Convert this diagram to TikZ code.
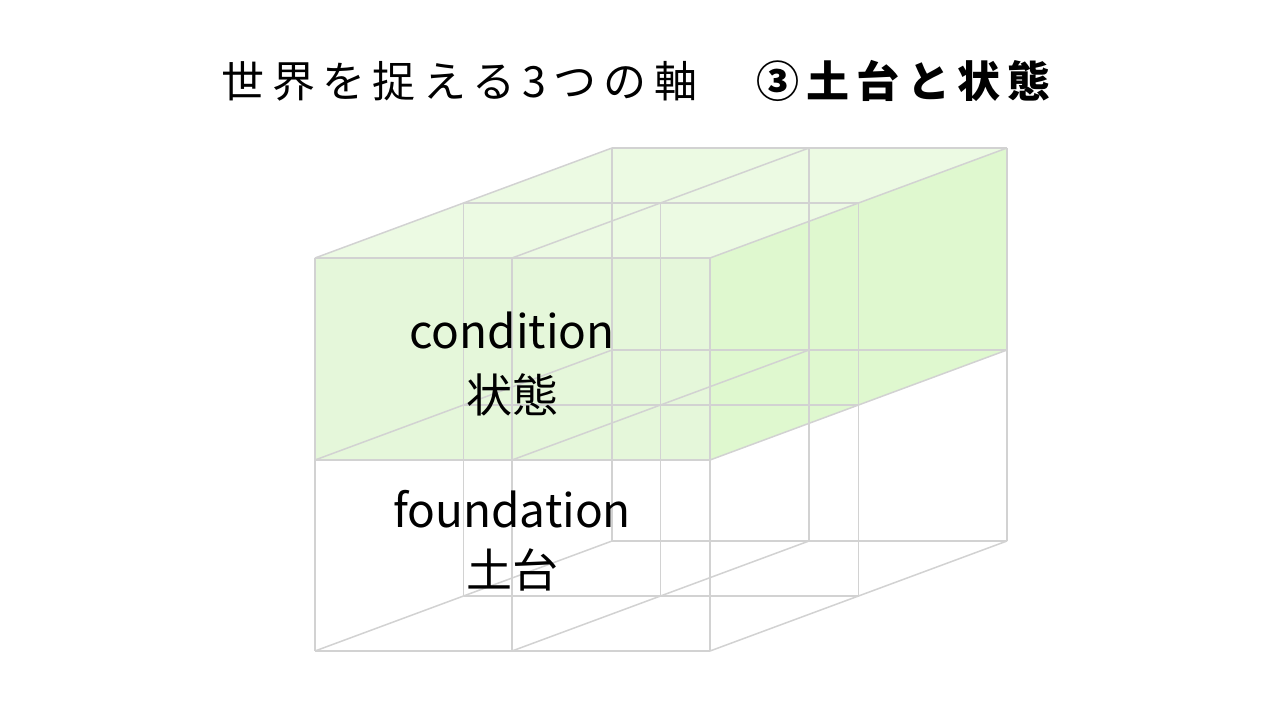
\documentclass[tikz,border=0pt]{standalone}
\usepackage{fontspec}
\setmainfont{Noto Sans CJK JP}
\newfontfamily\titlefont[LetterSpace=17]{Noto Sans CJK JP}
\definecolor{gridgray}{HTML}{D2D2D2}
\definecolor{topgreen}{HTML}{ECFAE3}
\definecolor{frontgreen}{HTML}{E5F7DA}
\definecolor{sidegreen}{HTML}{DFF8CF}
\tikzset{
  gridline/.style={draw=gridgray, line width=1.5pt},
  label/.style={anchor=base, inner sep=0pt, font=\fontsize{46}{50}\selectfont},
}
\begin{document}
\begin{tikzpicture}[x=1pt, y=-1pt]
\fill[white] (0,0) rectangle (1280,720);
\useasboundingbox (0,0) rectangle (1280,720);
% corner coordinates p<i><j><k>: i = across, j = down, k = depth
\foreach \i/\xx in {0/315,1/512,2/710}
  \foreach \j/\yy in {0/258,1/460,2/651}
    \foreach \k in {0,1,2}
      \coordinate (p\i\j\k) at (\xx+\k*148.5, \yy-\k*55);
% green upper layer
\fill[topgreen] (p000) -- (p200) -- (p202) -- (p002) -- cycle;
\fill[frontgreen] (p000) -- (p200) -- (p210) -- (p010) -- cycle;
\fill[sidegreen] (p200) -- (p202) -- (p212) -- (p210) -- cycle;
% wireframe
\foreach \j in {0,1,2} \foreach \k in {0,1,2}
  \draw[gridline] (p0\j\k) -- (p2\j\k);
\foreach \i in {0,1,2} \foreach \k in {0,1,2}
  \draw[gridline] (p\i0\k) -- (p\i2\k);
\foreach \i in {0,1,2} \foreach \j in {0,1,2}
  \draw[gridline] (p\i\j0) -- (p\i\j2);
% labels
\node[label] (cond) at (512,348) {condition};
\node[label] (condj) at (512,412) {状態};
\node[label] (found) at (512,527) {foundation};
\node[label] (foundj) at (512,587) {土台};
% title
\node[anchor=base, inner sep=0pt, font=\fontsize{43}{47}\selectfont\titlefont] (title) at (640,97)
  {世界を捉える3つの軸\hspace{1.2em}\textbf{③土台と状態}};
\end{tikzpicture}
\end{document}
